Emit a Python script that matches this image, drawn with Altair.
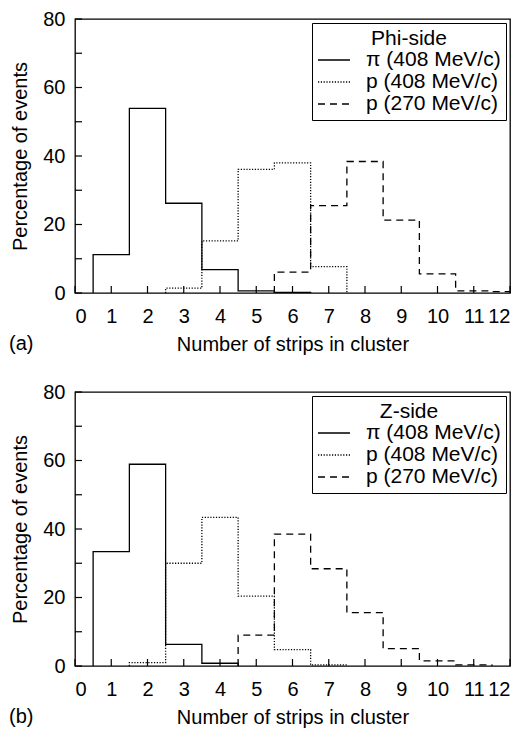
import altair as alt
import pandas as pd

FONT = "Liberation Sans"

# bin centres (number of strips in cluster)
centers = list(range(1, 13))
series = ["π (408 MeV/c)", "p (408 MeV/c)", "p (270 MeV/c)"]

# (a) Phi-side, percentage of events per bin
phi_pi = [11.2, 53.9, 26.2, 6.8, 0.6, 0.2, 0, 0, 0, 0, 0, 0]
phi_p408 = [0, 0, 1.4, 15.2, 36.1, 38.0, 7.7, 0, 0, 0, 0, 0]
phi_p270 = [0, 0, 0, 0, 0, 6.1, 25.5, 38.4, 21.3, 5.6, 0.6, 0.4]

# (b) Z-side
z_pi = [33.4, 58.9, 6.3, 0.8, 0, 0, 0, 0, 0, 0, 0, 0]
z_p408 = [0, 1.0, 30.0, 43.4, 20.4, 4.8, 0.3, 0, 0, 0, 0, 0]
z_p270 = [0, 0, 0, 0, 9.0, 38.5, 28.4, 15.6, 5.1, 1.5, 0.3, 0]

x_ticks = list(range(0, 13))
y_labels = [0, 20, 40, 60, 80]
y_ticks = list(range(0, 81, 10))
dashes = [[1, 0], [1.2, 1.6], [7, 5]]

W, H = 435, 274
TL = 7  # inward tick length, px


def steps(vals):
    nz = [i for i, v in enumerate(vals) if v > 0]
    lo, hi = nz[0], nz[-1]
    pts = [(centers[lo] - 0.5, 0.0)]
    for i in range(lo, hi + 1):
        pts.append((centers[i] - 0.5, vals[i]))
    pts.append((centers[hi] + 0.5, 0.0))
    return pts


x_axis = alt.Axis(
    orient="bottom", values=x_ticks, ticks=False, tickSize=0, domain=False,
    grid=False, labelPadding=13, labelFontSize=20, labelFont=FONT,
    labelColor="black", labelOverlap=False, title="Number of strips in cluster",
    titleFontSize=20, titleFont=FONT, titleFontWeight="normal",
    titleColor="black", titlePadding=8)
y_axis = alt.Axis(
    orient="left", values=y_labels, ticks=False, tickSize=0, domain=False,
    grid=False, labelPadding=10, labelFontSize=20, labelFont=FONT,
    labelColor="black", labelOverlap=False, title="Percentage of events",
    titleFontSize=20, titleFont=FONT, titleFontWeight="normal",
    titleColor="black", titlePadding=12)


def panel(title, tag, vals_list):
    rows = []
    for s, vals in zip(series, vals_list):
        for k, (x, y) in enumerate(steps(vals)):
            rows.append({"series": s, "x": x, "y": y, "k": k})
    df = pd.DataFrame(rows)
    xs = alt.Scale(domain=[0, 12], nice=False, zero=False)
    ys = alt.Scale(domain=[0, 80], nice=False)

    lines = alt.Chart(df).mark_line(
        interpolate="step-after", color="black", strokeWidth=1.3, clip=True
    ).encode(
        x=alt.X("x:Q", scale=xs, axis=x_axis),
        y=alt.Y("y:Q", scale=ys, axis=y_axis),
        strokeDash=alt.StrokeDash("series:N", scale=alt.Scale(domain=series, range=dashes),
            legend=alt.Legend(
                title=title, orient="top-right", offset=4, strokeColor="black",
                fillColor="white", padding=5, titleFontSize=21, titleFont=FONT,
                titleFontWeight="normal", titleColor="black", titleAnchor="middle",
                titlePadding=0, labelFontSize=21, labelFont=FONT, labelColor="black",
                symbolType="stroke", symbolSize=1024, symbolStrokeWidth=1.3,
                symbolStrokeColor="black", labelOffset=15, rowPadding=0,
                clipHeight=22)),
        order="k:Q",
    )

    xt = alt.Chart(pd.DataFrame({"v": x_ticks})).mark_rule(
        color="black", strokeWidth=1.2
    ).encode(x=alt.X("v:Q", scale=xs, axis=x_axis, title="Number of strips in cluster"),
             y=alt.value(H), y2=alt.value(H - TL))

    yt = alt.Chart(pd.DataFrame({"v": y_ticks})).mark_rule(
        color="black", strokeWidth=1.2
    ).encode(y=alt.Y("v:Q", scale=ys, axis=y_axis, title="Percentage of events"),
             x=alt.value(0), x2=alt.value(TL))

    tagc = alt.Chart(pd.DataFrame({"t": [tag]})).mark_text(
        align="left", baseline="middle", fontSize=20, font=FONT, color="black"
    ).encode(text="t:N", x=alt.value(-66), y=alt.value(H + 51))

    return alt.layer(lines, xt, yt, tagc).properties(width=W, height=H)


chart = alt.vconcat(
    panel("Phi-side", "(a)", [phi_pi, phi_p408, phi_p270]),
    panel("Z-side", "(b)", [z_pi, z_p408, z_p270]),
    spacing=26,
).resolve_scale(strokeDash="independent").resolve_legend(
    strokeDash="independent"
).properties(
    padding=0
).configure_view(stroke="black", strokeWidth=1.3)

chart.save("out.html", embed_options={"renderer": "svg", "actions": False})
